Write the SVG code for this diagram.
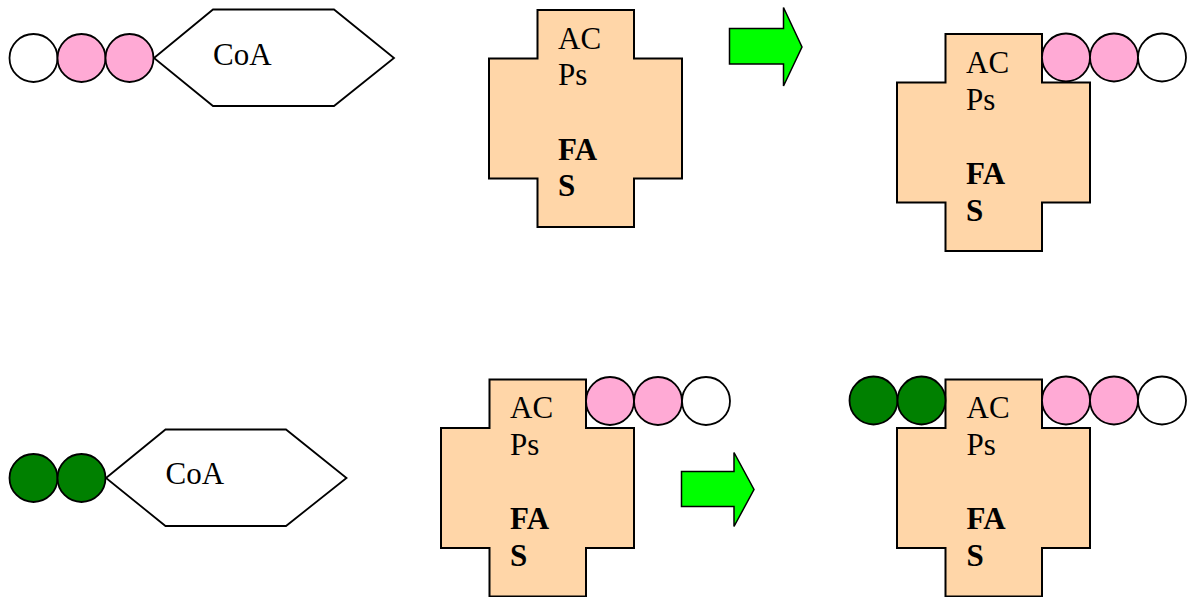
<svg xmlns="http://www.w3.org/2000/svg" width="1188" height="597" viewBox="0 0 1188 597">
<style>
.ln{stroke:#000;stroke-width:1.8;}
.w{fill:#fff;}
.pk{fill:#FFAAD5;}
.gr{fill:#008000;}
.hex{fill:#fff;stroke:#000;stroke-width:1.8;stroke-linejoin:miter;}
.cross{fill:#FFD6A8;stroke:#000;stroke-width:2;}
.arr{fill:#00FF00;stroke:#000;stroke-width:1.5;}
.t{font-family:"Liberation Serif","Times New Roman",serif;font-size:31px;fill:#000;}
.b{font-weight:bold;}
</style>
<defs>
<path id="crossShape" d="M0,0 H96.5 V48.5 H144.5 V168.5 H96.5 V217 H0 V168.5 H-48.5 V48.5 H0 Z"/>
</defs>
<rect width="1188" height="597" fill="#fff"/>

<g id="malonyl-coa">
<polygon class="hex" points="154,58 213,9.5 334,9.5 394,58 334,106 213,106"/>
<text class="t" x="213" y="65">CoA</text>
<circle class="ln w" cx="33.5" cy="58" r="24"/>
<circle class="ln pk" cx="81.5" cy="58" r="24"/>
<circle class="ln pk" cx="129.5" cy="58" r="24"/>
</g>

<g id="fas-1" transform="translate(537.5,10)">
<use href="#crossShape" class="cross"/>
<text class="t" x="20.5" y="38.5">AC</text>
<text class="t" x="20.5" y="75">Ps</text>
<text class="t b" x="20.5" y="149.5">FA</text>
<text class="t b" x="20.5" y="186">S</text>
</g>

<g id="fas-2">
<g transform="translate(945.5,34)">
<use href="#crossShape" class="cross"/>
<text class="t" x="20.5" y="39">AC</text>
<text class="t" x="20.5" y="75.5">Ps</text>
<text class="t b" x="20.5" y="150">FA</text>
<text class="t b" x="20.5" y="186.5">S</text>
</g>
<circle class="ln pk" cx="1066" cy="57.5" r="24"/>
<circle class="ln pk" cx="1114" cy="57.5" r="24"/>
<circle class="ln w" cx="1162" cy="57.5" r="24"/>
</g>

<g id="acetyl-coa">
<polygon class="hex" points="106,478 165.5,429.5 286,429.5 346.5,478 286,526 165.5,526"/>
<text class="t" x="165.5" y="484">CoA</text>
<circle class="ln gr" cx="33.5" cy="478" r="24"/>
<circle class="ln gr" cx="81.5" cy="478" r="24"/>
</g>

<g id="fas-3">
<g transform="translate(489.5,379.5)">
<use href="#crossShape" class="cross"/>
<text class="t" x="20.5" y="38.5">AC</text>
<text class="t" x="20.5" y="75">Ps</text>
<text class="t b" x="20.5" y="149.5">FA</text>
<text class="t b" x="20.5" y="186">S</text>
</g>
<circle class="ln pk" cx="610" cy="401" r="24"/>
<circle class="ln pk" cx="658" cy="401" r="24"/>
<circle class="ln w" cx="706" cy="401" r="24"/>
</g>

<g id="fas-4">
<g transform="translate(945.5,379.5)">
<use href="#crossShape" class="cross"/>
<text class="t" x="21" y="38.5">AC</text>
<text class="t" x="21" y="75">Ps</text>
<text class="t b" x="21" y="149.5">FA</text>
<text class="t b" x="21" y="186">S</text>
</g>
<circle class="ln gr" cx="873.5" cy="400.5" r="24"/>
<circle class="ln gr" cx="921.5" cy="400.5" r="24"/>
<circle class="ln pk" cx="1066" cy="400.5" r="24"/>
<circle class="ln pk" cx="1114" cy="400.5" r="24"/>
<circle class="ln w" cx="1162" cy="400.5" r="24"/>
</g>

<g id="connectors">
<path class="arr" d="M729.5,28.5 H783.5 V7.5 L802,47 L783.5,86 V64 H729.5 Z"/>
<path class="arr" d="M681.5,471.5 H734 V452.5 L754,489.5 L734,526.5 V506.5 H681.5 Z"/>
</g>
</svg>
